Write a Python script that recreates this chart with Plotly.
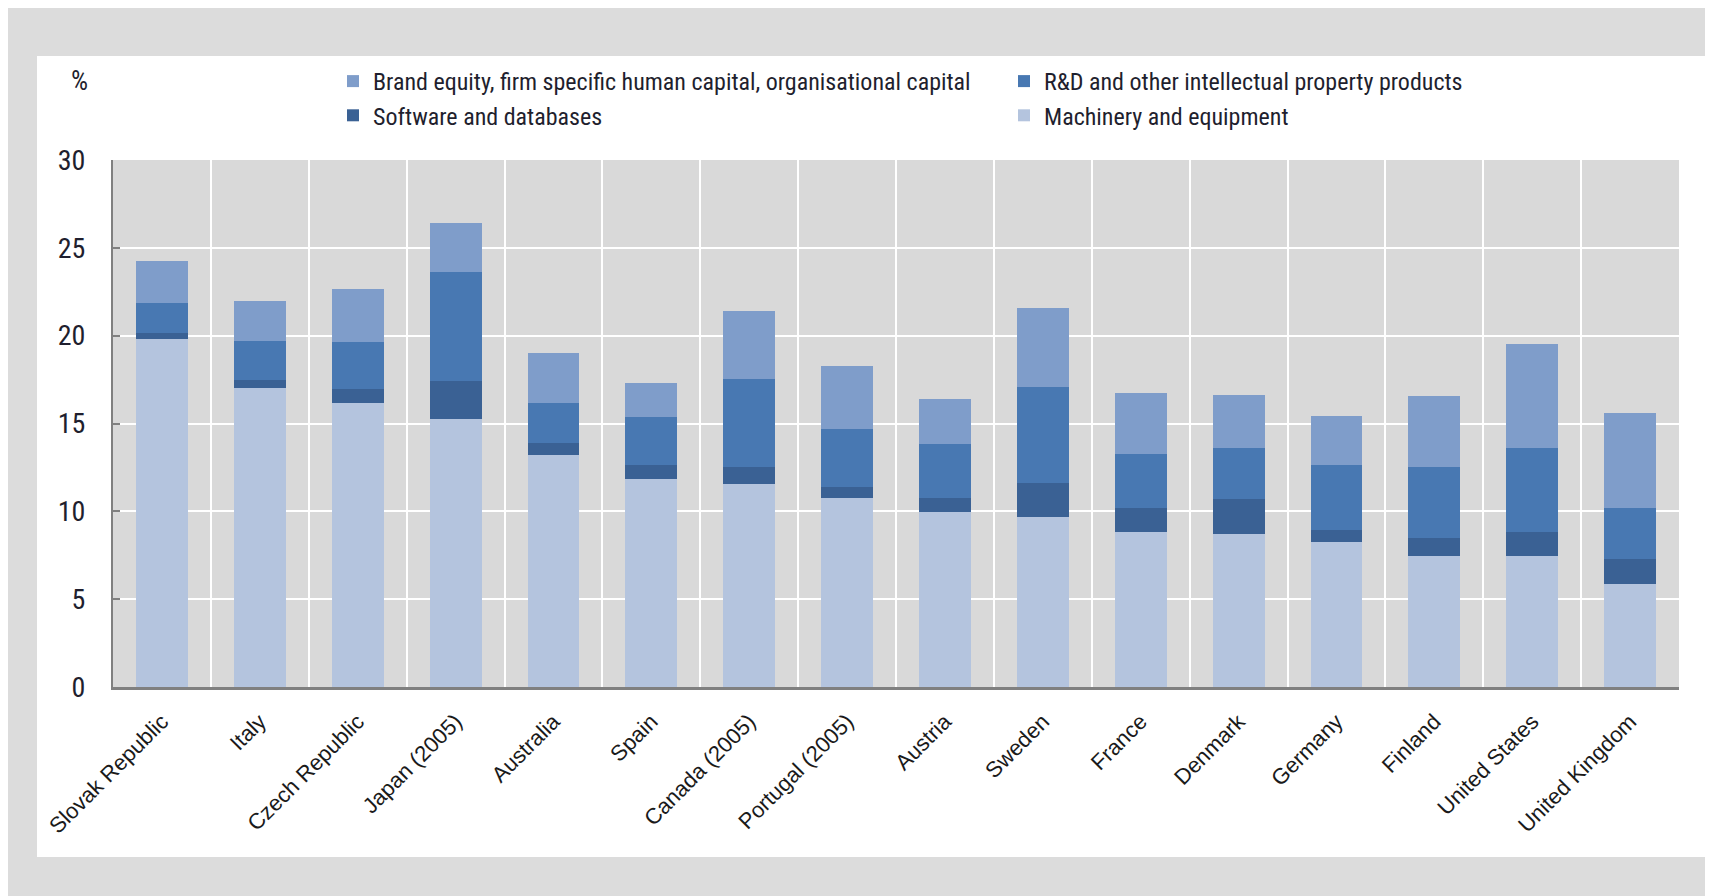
import plotly.graph_objects as go

countries = ["Slovak Republic", "Italy", "Czech Republic", "Japan (2005)", "Australia", "Spain",
             "Canada (2005)", "Portugal (2005)", "Austria", "Sweden", "France", "Denmark",
             "Germany", "Finland", "United States", "United Kingdom"]

machinery = [19.80, 17.00, 16.15, 15.23, 13.19, 11.85, 11.57, 10.75, 9.94, 9.67, 8.84, 8.72, 8.25, 7.44, 7.44, 5.87]
software = [0.36, 0.50, 0.82, 2.20, 0.71, 0.77, 0.93, 0.65, 0.81, 1.93, 1.34, 1.97, 0.71, 1.04, 1.38, 1.43]
rnd = [1.69, 2.17, 2.66, 6.17, 2.24, 2.73, 5.02, 3.27, 3.11, 5.49, 3.11, 2.91, 3.66, 4.04, 4.76, 2.90]
brand = [2.41, 2.28, 3.04, 2.80, 2.88, 1.97, 3.86, 3.62, 2.54, 4.48, 3.44, 3.05, 2.83, 4.02, 5.95, 5.39]

series_names = ["Machinery and equipment", "Software and databases",
                "R&D and other intellectual property products",
                "Brand equity, firm specific human capital, organisational capital"]
series_values = [machinery, software, rnd, brand]
series_colors = ["#b4c4de", "#3a6194", "#4878b2", "#7f9dca"]

y_ticks = [0, 5, 10, 15, 20, 25, 30]

NARROW = "Roboto Condensed, Liberation Sans Narrow, Roboto, sans-serif"

fig = go.Figure()
for name, vals, col in zip(series_names, series_values, series_colors):
    fig.add_trace(go.Bar(x=countries, y=vals, name=name, marker=dict(color=col, line=dict(width=0)),
                         width=0.53))

OFF = 8  # page body margin
W, H = 1705, 888
L = 113 - OFF
T = 160 - OFF
R = W - (1679 - OFF)
B = H - (687 - OFF)
pw, ph = W - L - R, H - T - B

def px2x(p):  # page px -> paper x
    return (p - OFF - L) / pw

def px2y(p):  # page px -> paper y
    return (H - B - (p - OFF)) / ph

shapes = [
    dict(type="rect", xref="paper", yref="paper", layer="below",
         x0=px2x(37), x1=px2x(1705), y0=px2y(857), y1=px2y(56),
         fillcolor="#ffffff", line=dict(width=0)),
    dict(type="rect", xref="paper", yref="paper", layer="below",
         x0=0, x1=1, y0=0, y1=1, fillcolor="#d9d9d9", line=dict(width=0)),
]

fig.update_layout(
    width=W, height=H,
    margin=dict(l=L, r=R, t=T, b=B, pad=0),
    barmode="stack",
    paper_bgcolor="#dcdcdc",
    plot_bgcolor="#d9d9d9",
    shapes=shapes,
    showlegend=True,
    legend=dict(
        orientation="h", traceorder="reversed",
        x=px2x(333), xanchor="left",
        y=px2y(59), yanchor="top",
        font=dict(family=NARROW, size=24, color="#1f1f2e"),
        entrywidth=626, entrywidthmode="pixels",
        bgcolor="rgba(0,0,0,0)", borderwidth=0,
    ),
    annotations=[dict(text="%", xref="paper", yref="paper", x=px2x(79), y=px2y(81),
                      xanchor="center", yanchor="middle", showarrow=False,
                      font=dict(family=NARROW, size=27, color="#1f1f2e"))],
    xaxis=dict(
        type="category", tickson="boundaries", showgrid=True, gridcolor="#ffffff", gridwidth=2,
        tickangle=-45, ticks="", showline=True, linecolor="#808080", linewidth=3,
        tickfont=dict(family="Liberation Sans, Arial, sans-serif", size=22, color="#1a1a1a"),
        ticklabelstandoff=10,
    ),
    yaxis=dict(
        range=[0, 30], tickvals=y_ticks, showgrid=True, gridcolor="#ffffff", gridwidth=2,
        ticks="inside", ticklen=7, tickcolor="#808080", tickwidth=2,
        showline=True, linecolor="#808080", linewidth=2, zeroline=False,
        tickfont=dict(family=NARROW, size=28, color="#1f1f2e"),
        ticklabelstandoff=20,
    ),
    bargap=0.47,
)

fig.write_html("out.html")
